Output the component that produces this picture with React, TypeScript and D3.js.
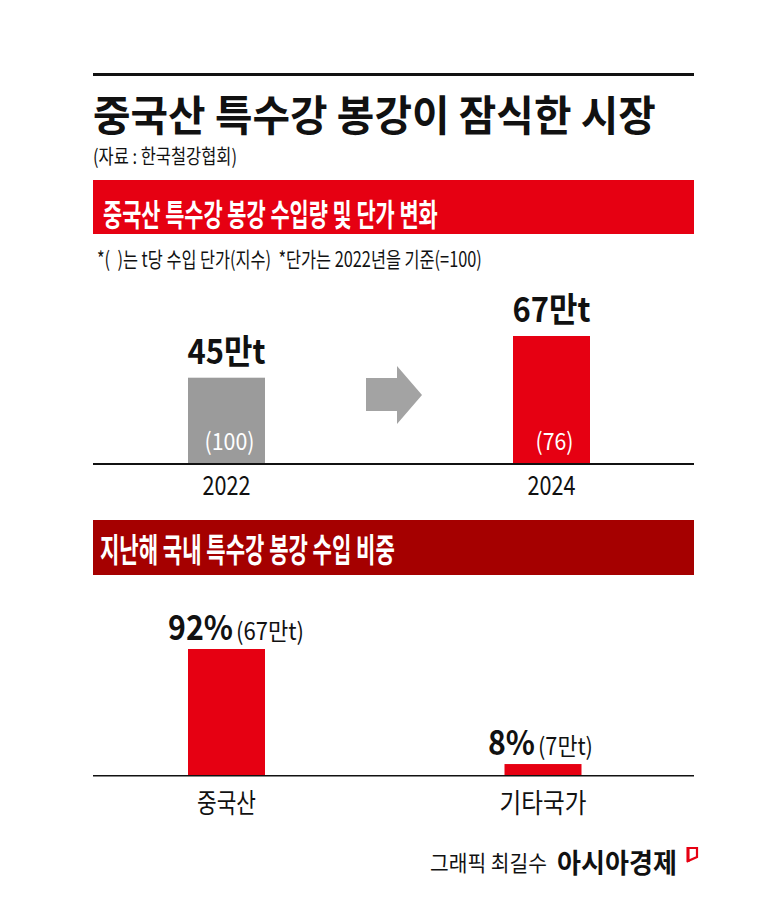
import React, { useLayoutEffect, useRef, useState } from 'react';
import * as d3 from 'd3';

const years = ['2022', '2024'];
const volumes = [45, 67];
const priceIndex = [100, 76];
const volumeColors = ['#9b9b9b', '#e60012'];

const shareCategories = ['중국산', '기타국가'];
const sharePct = [92, 8];
const shareVolumes = [67, 7];

const FONT = '"Noto Sans CJK KR", "Noto Sans", sans-serif';
const RED = '#e60012';
const DARK_RED = '#a50000';

type FitProps = {
  x: number; y: number; width: number; size: number; weight?: number;
  fill?: string; anchor?: 'start' | 'middle' | 'end'; children: string;
};

function FitText({ x, y, width, size, weight = 400, fill = '#111', anchor = 'start', children }: FitProps) {
  const ref = useRef<SVGTextElement>(null);
  const [s, setS] = useState(1);
  useLayoutEffect(() => {
    if (ref.current) {
      const w = ref.current.getComputedTextLength();
      if (w > 0) setS(width / w);
    }
  }, [width, size, children]);
  return (
    <text ref={ref} transform={`translate(${x},${y}) scale(${s},1)`} x={0} y={0}
      fontSize={size} fontWeight={weight} fill={fill} textAnchor={anchor}
      style={{ whiteSpace: 'pre' }}>{children}</text>
  );
}

export default function App() {
  const W = 784, H = 924;
  const left = 93, right = 694;
  const barW = 77;

  const x1 = d3.scalePoint<string>().domain(years).range([226.5, 551.5]);
  const base1 = 463;
  const y1 = d3.scaleLinear().domain([0, 67]).range([base1, 336]);

  const x2 = d3.scalePoint<string>().domain(shareCategories).range([226.5, 543]);
  const base2 = 775;
  const y2 = d3.scaleLinear().domain([0, 92]).range([base2, 649]);

  const arrowPath = d3.path();
  arrowPath.moveTo(366, 378);
  arrowPath.lineTo(397, 378);
  arrowPath.lineTo(397, 366);
  arrowPath.lineTo(422, 395);
  arrowPath.lineTo(397, 424);
  arrowPath.lineTo(397, 411);
  arrowPath.lineTo(366, 411);
  arrowPath.closePath();

  return (
    <svg width={W} height={H} style={{ position: 'absolute', left: 0, top: 0, background: '#fff' }} fontFamily={FONT}>
      <rect x={0} y={0} width={W} height={H} fill="#fff" />
      <rect x={left} y={73} width={right - left} height={3} fill="#111" />
      <FitText x={left} y={131} width={563} size={42} weight={700}>중국산 특수강 봉강이 잠식한 시장</FitText>
      <FitText x={left} y={164} width={144} size={20}>(자료 : 한국철강협회)</FitText>

      <rect x={left} y={180} width={right - left} height={54} fill={RED} />
      <FitText x={103} y={226} width={335} size={31} weight={700} fill="#fff">중국산 특수강 봉강 수입량 및 단가 변화</FitText>
      <FitText x={97} y={267} width={385} size={21}>{'*(\u00A0\u00A0)는 t당 수입 단가(지수)\u00A0\u00A0*단가는 2022년을 기준(=100)'}</FitText>

      {years.map((yr, i) => {
        const cx = x1(yr)!;
        return (
          <g key={yr}>
            <rect x={cx - barW / 2} y={y1(volumes[i])} width={barW} height={base1 - y1(volumes[i])} fill={volumeColors[i]} />
            <FitText x={cx} y={y1(volumes[i]) - 14} width={78} size={34} weight={700} anchor="middle">{`${volumes[i]}만t`}</FitText>
            <FitText x={cx + 3} y={450} width={i === 0 ? 50 : 38} size={24} fill="#fff" anchor="middle">{`(${priceIndex[i]})`}</FitText>
            <FitText x={cx} y={495} width={48} size={27} anchor="middle">{yr}</FitText>
          </g>
        );
      })}
      <path d={arrowPath.toString()} fill="#a3a3a3" />
      <rect x={left} y={base1} width={right - left} height={2} fill="#111" />

      <rect x={left} y={520} width={right - left} height={55} fill={DARK_RED} />
      <FitText x={100} y={562} width={295} size={33} weight={700} fill="#fff">지난해 국내 특수강 봉강 수입 비중</FitText>

      {shareCategories.map((c, i) => {
        const cx = x2(c)!;
        const top = y2(sharePct[i]);
        const pctW = i === 0 ? 65 : 47;
        const volW = i === 0 ? 68 : 55;
        const gap = 3;
        const start = cx - (i === 0 ? 58.5 : 55);
        return (
          <g key={c}>
            <rect x={cx - barW / 2} y={top} width={barW} height={base2 - top} fill={RED} />
            <FitText x={start} y={top - 9} width={pctW} size={34} weight={700}>{`${sharePct[i]}%`}</FitText>
            <FitText x={start + pctW + gap} y={top - 9} width={volW} size={24}>{`(${shareVolumes[i]}만t)`}</FitText>
            <FitText x={cx} y={813} width={i === 0 ? 59 : 87} size={27} anchor="middle">{c}</FitText>
          </g>
        );
      })}
      <rect x={left} y={base2} width={right - left} height={1.5} fill="#111" />

      <FitText x={430} y={871} width={117} size={22}>그래픽 최길수</FitText>
      <FitText x={557} y={873} width={120} size={27} weight={700}>아시아경제</FitText>
      <path d="M688,848 L697,848 L697,857 L688,861 Z" fill="#fff" stroke={RED} strokeWidth={2.2} strokeLinejoin="miter" />
      <rect x={686.5} y={847} width={3} height={15} fill={RED} />
    </svg>
  );
}
